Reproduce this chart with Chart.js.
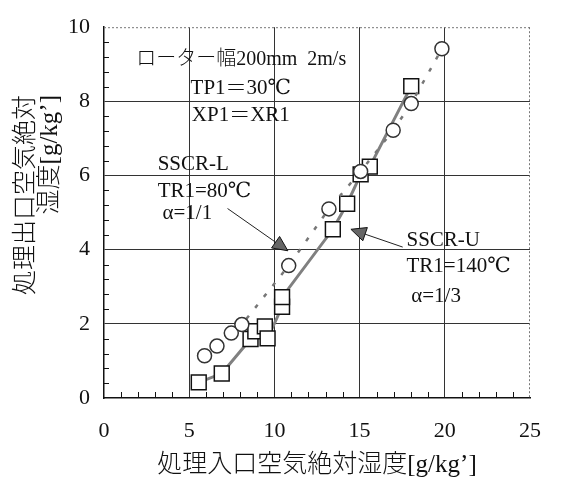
<!DOCTYPE html>
<html><head><meta charset="utf-8">
<script src="https://cdn.jsdelivr.net/npm/chart.js@4"></script>
<style>html,body{margin:0;padding:0;background:#fff}</style>
</head><body><canvas id="c" width="561" height="482"></canvas>
<script>
// ---- data ----
const xTicks = [0, 5, 10, 15, 20, 25];
const yTicks = [0, 2, 4, 6, 8, 10];
const circleX = [5.9, 6.63, 7.47, 8.09, 10.84, 13.2, 15.06, 16.97, 18.03, 19.83];
const circleY = [1.14, 1.40, 1.75, 1.98, 3.57, 5.1, 6.11, 7.22, 7.94, 9.42];
const squareX = [5.56, 6.91, 8.6, 8.88, 9.44, 9.6, 10.45, 10.45, 13.43, 14.27, 15.06, 15.6, 18.03];
const squareY = [0.42, 0.66, 1.59, 1.80, 1.93, 1.61, 2.46, 2.72, 4.55, 5.24, 6.03, 6.24, 8.41];
const xTitle = '処理入口空気絶対湿度[g/kg’]';
const yTitleLines = ['処理出口空気絶対', '湿度[g/kg’]'];
const notes = [
  {t: 'ローター幅200mm  2m/s', x: 8.05, y: 9.13, align: 'center', size: 20},
  {t: 'TP1＝30℃', x: 8.03, y: 8.36, align: 'center', size: 21},
  {t: 'XP1＝XR1', x: 8.03, y: 7.62, align: 'center', size: 21},
  {t: 'SSCR-L', x: 3.15, y: 6.3, align: 'left', size: 21},
  {t: 'TR1=80℃', x: 3.15, y: 5.58, align: 'left', size: 21},
  {t: 'α=1/1', x: 3.43, y: 4.97, align: 'left', size: 21},
  {t: 'SSCR-U', x: 17.75, y: 4.26, align: 'left', size: 21},
  {t: 'TR1=140℃', x: 17.75, y: 3.54, align: 'left', size: 21},
  {t: 'α=1/3', x: 18.03, y: 2.75, align: 'left', size: 21}
];
const arrows = [
  {x0: 7.25, y0: 5.11, x1: 10.79, y1: 3.97},
  {x0: 17.53, y0: 4.07, x1: 14.49, y1: 4.55}
];

const SERIF = '"Liberation Serif", "DejaVu Serif", "Noto Sans CJK JP", serif';
const toPts = (xs, ys) => xs.map((v, i) => ({x: v, y: ys[i]}));

const deco = {
  id: 'deco',
  beforeDatasetsDraw(chart) {
    const {ctx, chartArea: a, scales: {x, y}} = chart;
    ctx.save();
    ctx.strokeStyle = '#111'; ctx.lineWidth = 1;
    ctx.beginPath();
    for (let v = 1; v < 25; v++) {
      if (v % 5 === 0) continue;
      const px = Math.round(x.getPixelForValue(v)) + 0.5;
      ctx.moveTo(px, a.bottom); ctx.lineTo(px, a.bottom - 6);
    }
    for (let i = 1; i < 25; i++) {
      if (i % 5 === 0) continue;
      const py = Math.round(y.getPixelForValue(i * 0.4)) + 0.5;
      ctx.moveTo(a.left, py); ctx.lineTo(a.left + 5, py);
    }
    ctx.stroke();
    ctx.strokeStyle = '#777'; ctx.setLineDash([2, 2]);
    ctx.beginPath();
    ctx.moveTo(a.left, a.top + 0.5); ctx.lineTo(a.right, a.top + 0.5);
    ctx.moveTo(a.right - 0.5, a.top); ctx.lineTo(a.right - 0.5, a.bottom);
    ctx.stroke();
    ctx.restore();
  },
  afterDraw(chart) {
    const {ctx, scales: {x, y}} = chart;
    ctx.save();
    // arrows
    arrows.forEach(ar => {
      const x0 = x.getPixelForValue(ar.x0), y0 = y.getPixelForValue(ar.y0);
      const x1 = x.getPixelForValue(ar.x1), y1 = y.getPixelForValue(ar.y1);
      const ang = Math.atan2(y1 - y0, x1 - x0);
      const L = 15, W = 7;
      ctx.strokeStyle = '#222'; ctx.lineWidth = 1;
      ctx.beginPath(); ctx.moveTo(x0, y0);
      ctx.lineTo(x1 - L * Math.cos(ang), y1 - L * Math.sin(ang)); ctx.stroke();
      const bx = x1 - L * Math.cos(ang), by = y1 - L * Math.sin(ang);
      ctx.fillStyle = '#666'; ctx.strokeStyle = '#111'; ctx.lineWidth = 1;
      ctx.beginPath();
      ctx.moveTo(x1, y1);
      ctx.lineTo(bx + W * Math.sin(ang), by - W * Math.cos(ang));
      ctx.lineTo(bx - W * Math.sin(ang), by + W * Math.cos(ang));
      ctx.closePath(); ctx.fill(); ctx.stroke();
    });
    // notes
    ctx.fillStyle = '#111'; ctx.textBaseline = 'middle';
    notes.forEach(n => {
      ctx.font = '300 ' + n.size + 'px ' + SERIF;
      ctx.textAlign = n.align;
      ctx.fillText(n.t, x.getPixelForValue(n.x), y.getPixelForValue(n.y));
    });
    // y title (two rotated lines, aligned at top)
    ctx.font = '300 25px ' + SERIF;
    ctx.textAlign = 'right';
    const cols = [26, 50];
    yTitleLines.forEach((ln, i) => {
      ctx.save();
      ctx.translate(cols[i], 95);
      ctx.rotate(-Math.PI / 2);
      ctx.fillText(ln, 0, 0);
      ctx.restore();
    });
    ctx.restore();
  }
};

new Chart(document.getElementById('c'), {
  type: 'scatter',
  data: {
    datasets: [
      {
        label: 'SSCR-L',
        data: toPts(circleX, circleY),
        showLine: true,
        borderColor: '#777',
        borderWidth: 2.5,
        borderDash: [4, 10],
        pointStyle: 'circle',
        pointRadius: 7,
        pointBorderWidth: 1.5,
        pointBorderColor: '#333',
        pointBackgroundColor: '#fff'
      },
      {
        label: 'SSCR-U',
        data: toPts(squareX, squareY),
        showLine: true,
        borderColor: '#808080',
        borderWidth: 3,
        pointStyle: 'rect',
        pointRadius: 10.5,
        pointBorderWidth: 1.5,
        pointBorderColor: '#111',
        pointBackgroundColor: '#fff'
      }
    ]
  },
  options: {
    responsive: false,
    animation: false,
    devicePixelRatio: 1,
    layout: {padding: {top: 20, right: 12, left: 0, bottom: 0}},
    plugins: {legend: {display: false}, tooltip: {enabled: false}},
    scales: {
      x: {
        type: 'linear', min: 0, max: 25,
        afterBuildTicks: s => { s.ticks = xTicks.map(v => ({value: v})); },
        afterFit: s => { s.height = 84; },
        ticks: {font: {family: SERIF, size: 22}, color: '#111', padding: 20},
        grid: {drawTicks: false, lineWidth: 1,
          color: c => (c.tick && (c.tick.value === 0 || c.tick.value === 25)) ? 'rgba(0,0,0,0)' : '#333'},
        border: {color: '#111', width: 1.5},
        title: {display: true, text: xTitle, font: {family: SERIF, size: 25, weight: '300'}, color: '#111', padding: {top: 0, bottom: 2}}
      },
      y: {
        type: 'linear', min: 0, max: 10,
        afterBuildTicks: s => { s.ticks = yTicks.map(v => ({value: v})); },
        afterFit: s => { s.width = 104; },
        ticks: {font: {family: SERIF, size: 22}, color: '#111', padding: 14},
        grid: {drawTicks: false, lineWidth: 1,
          color: c => (c.tick && (c.tick.value === 0 || c.tick.value === 10)) ? 'rgba(0,0,0,0)' : '#333'},
        border: {color: '#111', width: 1.5}
      }
    }
  },
  plugins: [deco]
});
</script>
</body></html>
